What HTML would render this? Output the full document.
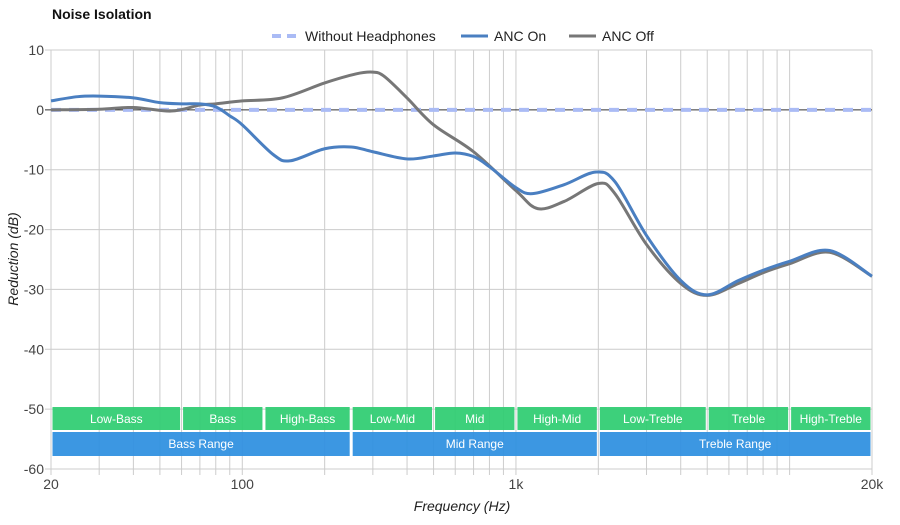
<!DOCTYPE html>
<html><head><meta charset="utf-8"><style>
body{margin:0;background:#fff;font-family:"Liberation Sans",sans-serif}
svg text{font-family:"Liberation Sans",sans-serif}
</style></head><body>
<svg id="c" width="900" height="520"></svg>
<script>
const freqTicks=[20,100,1000,20000];
const freqTickLabels=["20","100","1k","20k"];
const gridFreqs=[20,30,40,50,60,70,80,90,100,200,300,400,500,600,700,800,900,1000,2000,3000,4000,5000,6000,7000,8000,9000,10000,20000];
const yTicks=[10,0,-10,-20,-30,-40,-50,-60];
const onFreq=[20,25,30,40,50,60,70,80,90,100,130,150,200,250,300,400,500,600,700,800,1000,1150,1500,1950,2300,3000,4000,5000,6500,8000,10000,14000,20000];
const onVals=[1.5,2.2,2.3,2,1.2,1,1,0.5,-1,-2.5,-7.5,-8.5,-6.5,-6.2,-7,-8.2,-7.7,-7.2,-7.8,-9.5,-13,-14,-12.5,-10.4,-12,-21,-28.5,-30.9,-28.5,-26.8,-25.3,-23.5,-27.8];
const offFreq=[20,30,40,55,70,80,100,140,200,260,300,330,400,500,700,1000,1200,1500,2000,2300,3000,4000,5000,6500,8000,10000,14000,20000];
const offVals=[0,0.1,0.4,-0.2,0.8,1,1.5,2,4.5,6,6.3,5.6,2,-2.5,-7,-13.5,-16.5,-15.3,-12.3,-14,-22.5,-29,-31,-29,-27.2,-25.7,-23.8,-27.8];
const bandNames=["Low-Bass","Bass","High-Bass","Low-Mid","Mid","High-Mid","Low-Treble","Treble","High-Treble"];
const bandEdges=[20,60,120,250,500,1000,2000,5000,10000,20000];
const rangeNames=["Bass Range","Mid Range","Treble Range"];
const rangeEdges=[20,250,2000,20000];

const X0=51,X1=872,Y0=50,Y1=469;
const x=f=>X0+(X1-X0)*Math.log10(f/20)/3;
const y=v=>Y0+(10-v)*(Y1-Y0)/70;
const svg=document.getElementById('c');const NS='http://www.w3.org/2000/svg';
function mk(t,a,p){const e=document.createElementNS(NS,t);for(const k in a)e.setAttribute(k,a[k]);(p||svg).appendChild(e);return e;}
let e;
e=mk('text',{x:52,y:19,'font-size':14,'font-weight':'bold',fill:'#111'});e.textContent='Noise Isolation';


gridFreqs.forEach(f=>{e=mk('line',{x1:x(f),x2:x(f),y1:Y0,y2:Y1+6,stroke:'#ccc'});

});
yTicks.forEach(v=>{e=mk('line',{x1:X0-6,x2:X1,y1:y(v),y2:y(v),stroke:v===0?'#333':'#ccc'});


e=mk('text',{x:44,y:y(v)+5,'font-size':14,fill:'#444','text-anchor':'end'});e.textContent=v;

});
freqTicks.forEach((f,i)=>{e=mk('text',{x:x(f),y:489,'font-size':14,fill:'#444','text-anchor':'middle'});e.textContent=freqTickLabels[i];

});
e=mk('text',{x:462,y:511,'font-size':14,'font-style':'italic',fill:'#222','text-anchor':'middle'});e.textContent='Frequency (Hz)';


e=mk('text',{transform:'translate(18,259) rotate(-90)','font-size':14,'font-style':'italic',fill:'#222','text-anchor':'middle'});e.textContent='Reduction (dB)';


bandNames.forEach((n,i)=>{const a=x(bandEdges[i])+1.5,b=x(bandEdges[i+1])-1.5;
e=mk('rect',{x:a,y:407,width:b-a,height:23,fill:'#2ecc71',opacity:0.93});


e=mk('text',{x:(a+b)/2,y:423,'font-size':12,fill:'#fff','text-anchor':'middle'});e.textContent=n;

});
rangeNames.forEach((n,i)=>{const a=x(rangeEdges[i])+1.5,b=x(rangeEdges[i+1])-1.5;
e=mk('rect',{x:a,y:432,width:b-a,height:24,fill:'#2d8fe0',opacity:0.93});


e=mk('text',{x:(a+b)/2,y:448,'font-size':12,fill:'#fff','text-anchor':'middle'});e.textContent=n;

});
e=mk('line',{x1:X0,x2:X1,y1:y(0),y2:y(0),stroke:'#aabbf5','stroke-width':4,'stroke-dasharray':'10 8'});


function path(fs,vs){const p=fs.map((f,i)=>[x(f),y(vs[i])]);let d='M'+p[0];
for(let i=0;i<p.length-1;i++){const p0=p[i-1]||p[i],p1=p[i],p2=p[i+1],p3=p[i+2]||p2;
const c1=[p1[0]+(p2[0]-p0[0])/6,p1[1]+(p2[1]-p0[1])/6],c2=[p2[0]-(p3[0]-p1[0])/6,p2[1]-(p3[1]-p1[1])/6];
d+=' C'+c1+' '+c2+' '+p2;}return d;}
e=mk('path',{d:path(offFreq,offVals),fill:'none',stroke:'#777','stroke-width':3});


e=mk('path',{d:path(onFreq,onVals),fill:'none',stroke:'#4a7fc1','stroke-width':3});


const leg=[['Without Headphones',272,'#aabbf5',true],['ANC On',461,'#4a7fc1',false],['ANC Off',569,'#777',false]];
leg.forEach(l=>{const g=mk('g',{});


const o={x1:l[1],x2:l[1]+27,y1:36,y2:36,stroke:l[2],'stroke-width':3};if(l[3]){o['stroke-dasharray']='9 6';o['stroke-width']=4;}
mk('line',o,g);const t=mk('text',{x:l[1]+33,y:41,'font-size':14,fill:'#222'},g);t.textContent=l[0];});
</script>
</body></html>
